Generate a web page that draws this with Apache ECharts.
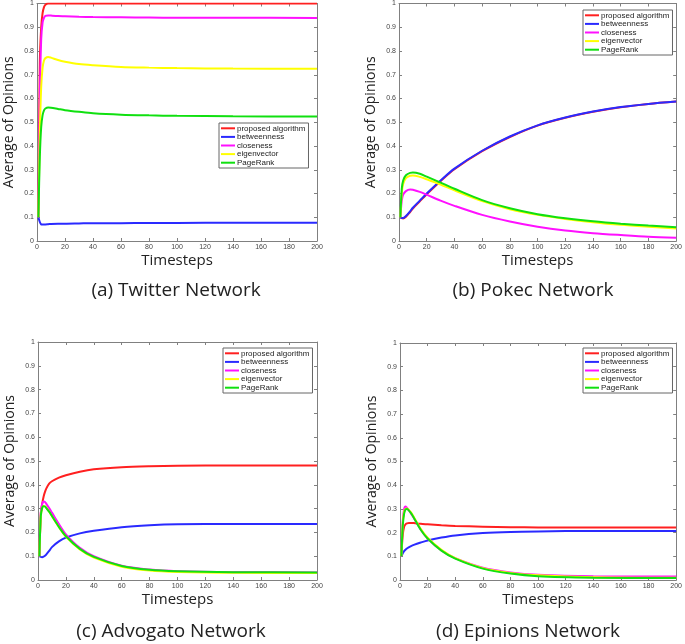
<!DOCTYPE html>
<html>
<head>
<meta charset="utf-8">
<script src="https://cdn.jsdelivr.net/npm/echarts@6/dist/echarts.min.js"></script>
<style>html,body{margin:0;padding:0;background:#fff;}#c{width:685px;height:644px;}</style>
</head>
<body>
<div id="c"></div>
<script>
const seriesNames = ['proposed algorithm', 'betweenness', 'closeness', 'eigenvector', 'PageRank'];
const panelCaptions = ['(a) Twitter Network', '(b) Pokec Network', '(c) Advogato Network', '(d) Epinions Network'];
const xTicks = [0, 20, 40, 60, 80, 100, 120, 140, 160, 180, 200];
const yTicks = [0, 0.1, 0.2, 0.3, 0.4, 0.5, 0.6, 0.7, 0.8, 0.9, 1];

// (a) Twitter
const twitterT = [1, 2, 3, 4, 5, 6, 8, 10, 15, 20, 30, 40, 60, 80, 100, 140, 200];
const twitterProposed = [0.1, 0.75, 0.9, 0.96, 0.985, 0.995, 1, 1, 1, 1, 1, 1, 1, 1, 1, 1, 1];
const twitterBetweenness = [0.1, 0.08, 0.07, 0.069, 0.07, 0.07, 0.071, 0.072, 0.073, 0.073, 0.074, 0.075, 0.075, 0.076, 0.076, 0.077, 0.077];
const twitterCloseness = [0.1, 0.6, 0.85, 0.92, 0.94, 0.948, 0.95, 0.949, 0.947, 0.946, 0.944, 0.943, 0.942, 0.941, 0.94, 0.94, 0.939];
const twitterEigenvector = [0.1, 0.45, 0.65, 0.73, 0.76, 0.77, 0.775, 0.772, 0.762, 0.755, 0.745, 0.74, 0.733, 0.73, 0.728, 0.726, 0.725];
const twitterPageRank = [0.1, 0.35, 0.48, 0.53, 0.55, 0.558, 0.562, 0.561, 0.556, 0.551, 0.544, 0.538, 0.532, 0.529, 0.527, 0.525, 0.524];

// (b) Pokec
const pokecT = [1, 2, 3, 5, 8, 10, 15, 20, 30, 40, 60, 80, 100, 120, 140, 160, 180, 200];
const pokecProposed = [0.1, 0.096, 0.095, 0.102, 0.122, 0.137, 0.167, 0.197, 0.252, 0.302, 0.378, 0.438, 0.486, 0.519, 0.544, 0.563, 0.577, 0.587];
const pokecBetweenness = [0.1, 0.097, 0.097, 0.105, 0.125, 0.14, 0.17, 0.2, 0.255, 0.305, 0.38, 0.44, 0.487, 0.52, 0.545, 0.564, 0.577, 0.587];
const pokecCloseness = [0.1, 0.17, 0.195, 0.21, 0.217, 0.216, 0.207, 0.195, 0.17, 0.148, 0.11, 0.082, 0.06, 0.044, 0.033, 0.025, 0.018, 0.014];
const pokecEigenvector = [0.1, 0.2, 0.24, 0.265, 0.275, 0.276, 0.27, 0.26, 0.238, 0.213, 0.168, 0.134, 0.11, 0.093, 0.079, 0.068, 0.06, 0.053];
const pokecPageRank = [0.1, 0.22, 0.255, 0.277, 0.287, 0.288, 0.283, 0.271, 0.246, 0.22, 0.172, 0.138, 0.113, 0.096, 0.083, 0.073, 0.065, 0.058];

// (c) Advogato
const advogatoT = [1, 2, 3, 4, 5, 6, 8, 10, 15, 20, 30, 40, 60, 80, 100, 140, 200];
const advogatoProposed = [0.1, 0.28, 0.32, 0.35, 0.37, 0.385, 0.405, 0.415, 0.43, 0.44, 0.455, 0.465, 0.474, 0.478, 0.48, 0.481, 0.481];
const advogatoBetweenness = [0.1, 0.097, 0.096, 0.098, 0.102, 0.108, 0.122, 0.138, 0.162, 0.178, 0.196, 0.207, 0.222, 0.23, 0.234, 0.235, 0.235];
const advogatoCloseness = [0.1, 0.28, 0.32, 0.33, 0.328, 0.32, 0.302, 0.283, 0.235, 0.192, 0.135, 0.1, 0.06, 0.044, 0.037, 0.033, 0.032];
const advogatoEigenvector = [0.1, 0.265, 0.302, 0.311, 0.31, 0.303, 0.287, 0.268, 0.222, 0.182, 0.128, 0.094, 0.056, 0.04, 0.034, 0.03, 0.029];
const advogatoPageRank = [0.1, 0.268, 0.303, 0.31, 0.309, 0.302, 0.287, 0.269, 0.223, 0.184, 0.131, 0.097, 0.059, 0.043, 0.037, 0.033, 0.032];

// (d) Epinions
const epinionsT = [1, 2, 3, 4, 5, 6, 8, 10, 15, 20, 30, 40, 60, 80, 100, 140, 200];
const epinionsProposed = [0.1, 0.19, 0.225, 0.235, 0.239, 0.24, 0.241, 0.24, 0.237, 0.235, 0.231, 0.228, 0.225, 0.223, 0.222, 0.221, 0.221];
const epinionsBetweenness = [0.1, 0.113, 0.122, 0.128, 0.133, 0.137, 0.143, 0.148, 0.158, 0.167, 0.179, 0.188, 0.198, 0.203, 0.205, 0.207, 0.207];
const epinionsCloseness = [0.1, 0.25, 0.3, 0.31, 0.305, 0.298, 0.28, 0.262, 0.213, 0.175, 0.125, 0.092, 0.052, 0.032, 0.022, 0.016, 0.015];
const epinionsEigenvector = [0.1, 0.24, 0.288, 0.3, 0.302, 0.298, 0.285, 0.266, 0.216, 0.178, 0.127, 0.092, 0.05, 0.03, 0.02, 0.012, 0.01];
const epinionsPageRank = [0.1, 0.23, 0.28, 0.297, 0.3, 0.296, 0.282, 0.263, 0.212, 0.175, 0.124, 0.09, 0.048, 0.027, 0.016, 0.01, 0.008];

const panels = [
  { t: twitterT, ys: [twitterProposed, twitterBetweenness, twitterCloseness, twitterEigenvector, twitterPageRank] },
  { t: pokecT, ys: [pokecProposed, pokecBetweenness, pokecCloseness, pokecEigenvector, pokecPageRank] },
  { t: advogatoT, ys: [advogatoProposed, advogatoBetweenness, advogatoCloseness, advogatoEigenvector, advogatoPageRank] },
  { t: epinionsT, ys: [epinionsProposed, epinionsBetweenness, epinionsCloseness, epinionsEigenvector, epinionsPageRank] }
];

const colors = ['#ff2020', '#2a2aff', '#ff10ff', '#ffff00', '#10e010'];
const grids = [
  { left: 37, top: 2, width: 280, height: 239 },
  { left: 399, top: 3, width: 279, height: 238 },
  { left: 38, top: 342, width: 279, height: 238 },
  { left: 400, top: 343, width: 279, height: 237 }
];
const legendPos = [
  { left: 219, top: 123 },
  { left: 583, top: 10 },
  { left: 223, top: 348 },
  { left: 583, top: 348 }
];
const captionPos = [[176, 291], [533, 291], [171, 632], [528, 632]];

const axisColor = '#808080';
const xAxes = [], yAxes = [], series = [], legends = [], graphics = [];
grids.forEach((g, i) => {
  const common = { gridIndex: i, type: 'value', splitLine: { show: false },
    axisLine: { show: true, onZero: false, lineStyle: { color: axisColor, width: 1 } },
    axisTick: { show: true, inside: true, length: 3, lineStyle: { color: axisColor } } };
  xAxes.push(Object.assign({}, common, {
    min: xTicks[0], max: xTicks[xTicks.length - 1], interval: 20, position: 'bottom',
    axisLabel: { fontSize: 7, color: '#444', margin: 3, fontFamily: 'Liberation Sans' },
    name: 'Timesteps', nameLocation: 'middle', nameGap: 12,
    nameTextStyle: { fontSize: 15, color: '#222', fontFamily: 'Open Sans' }
  }));
  xAxes.push(Object.assign({}, common, {
    min: xTicks[0], max: xTicks[xTicks.length - 1], interval: 20, position: 'top',
    axisLabel: { show: false }
  }));
  yAxes.push(Object.assign({}, common, {
    min: yTicks[0], max: yTicks[yTicks.length - 1], interval: 0.1, position: 'left',
    axisLabel: { fontSize: 7, color: '#444', margin: 3, fontFamily: 'Liberation Sans' },
    name: 'Average of Opinions', nameLocation: 'middle', nameGap: 21,
    nameTextStyle: { fontSize: 14, color: '#222', fontFamily: 'Open Sans' }
  }));
  yAxes.push(Object.assign({}, common, {
    min: yTicks[0], max: yTicks[yTicks.length - 1], interval: 0.1, position: 'right',
    axisLabel: { show: false }
  }));
  const p = panels[i];
  seriesNames.forEach((name, k) => {
    series.push({
      name: name, type: 'line', xAxisIndex: 2 * i, yAxisIndex: 2 * i,
      data: p.t.map((t, j) => [t, p.ys[k][j]]),
      showSymbol: false, symbol: 'none', smooth: 0.3, clip: true,
      lineStyle: { color: colors[k], width: 2 }, itemStyle: { color: colors[k] },
      z: 2 + k
    });
  });
  legends.push({
    orient: 'vertical', left: legendPos[i].left, top: legendPos[i].top,
    data: seriesNames, icon: 'rect', itemWidth: 14, itemHeight: 2, itemGap: 0,
    padding: [1, 3, 1, 2], borderColor: '#666', borderWidth: 1, backgroundColor: '#fff',
    selectedMode: false, z: 10,
    textStyle: { fontSize: 8, fontFamily: 'Liberation Sans', color: '#222', lineHeight: 8.6, padding: [0, 0, 0, -3] }
  });
  graphics.push({
    type: 'text', x: captionPos[i][0], y: captionPos[i][1],
    style: { text: panelCaptions[i], fontSize: 19, fontFamily: 'Open Sans', fill: '#222',
      align: 'center', verticalAlign: 'middle', textAlign: 'center', textVerticalAlign: 'middle' }
  });
});

const chart = echarts.init(document.getElementById('c'), null, { renderer: 'canvas' });
chart.setOption({
  animation: false,
  backgroundColor: '#fff',
  color: colors,
  grid: grids,
  xAxis: xAxes,
  yAxis: yAxes,
  legend: legends,
  series: series,
  graphic: graphics
});
</script>
</body>
</html>
